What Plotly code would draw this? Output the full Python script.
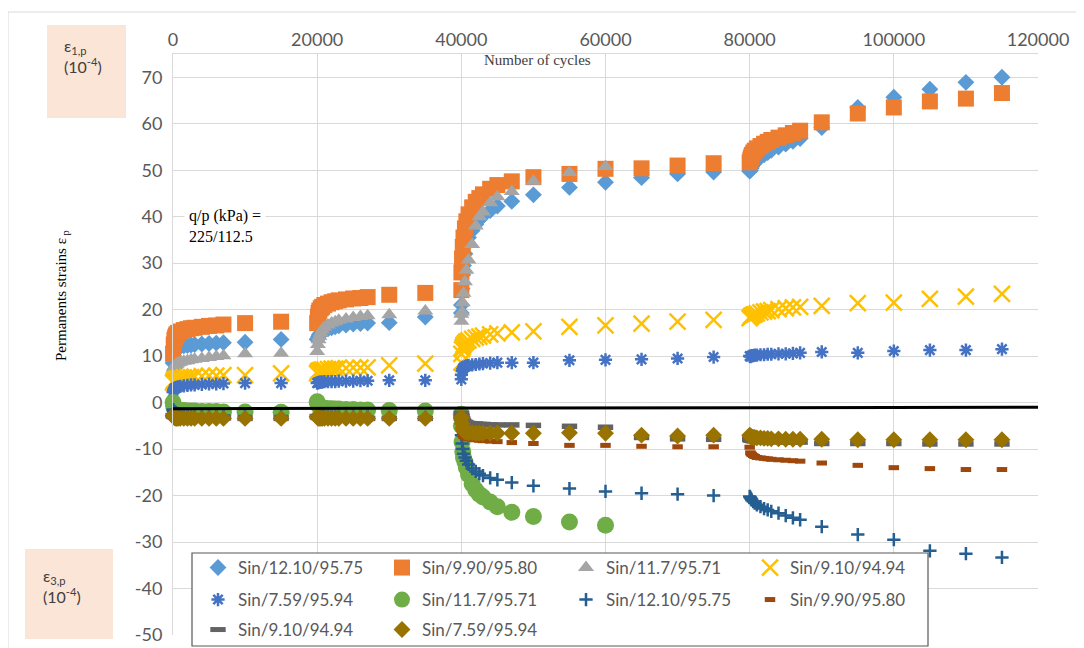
import plotly.graph_objects as go

# ---------------- data ----------------
c1 = [10, 100, 200, 300, 400, 500, 700, 1000, 1500, 2000, 2500, 3000, 4000, 5000, 6000, 7000, 10000, 15000]
c2 = [20000, 20100, 20200, 20300, 20500, 20700, 21000, 21500, 22000, 22500, 23000, 24000, 25000, 26000, 27000, 30000, 35000, 40000]
c3 = [40010, 40100, 40200, 40300, 40500, 40700, 41000, 41500, 42000, 42500, 43000, 44000, 45000, 47000, 50000, 55000, 60000]
c3b = [65000, 70000, 75000]
c4 = [80000, 80100, 80200, 80300, 80500, 80700, 81000, 81500, 82000, 82500, 83000, 84000, 85000, 86000, 87000,
      90000, 95000, 100000, 105000, 110000, 115000]

names = ["Sin/12.10/95.75", "Sin/9.90/95.80", "Sin/11.7/95.71", "Sin/9.10/94.94", "Sin/7.59/95.94",
         "Sin/11.7/95.71", "Sin/12.10/95.75", "Sin/9.90/95.80", "Sin/9.10/94.94", "Sin/7.59/95.94"]

# axial strains (positive)
s1_vals = [8.5, 10.0, 10.8, 11.2, 11.5, 11.7, 11.9, 12.1, 12.2, 12.3, 12.4, 12.5, 12.6, 12.7, 12.8, 12.9, 13.0, 13.6,
           13.6, 13.8, 14.2, 14.6, 15.0, 15.3, 15.6, 15.9, 16.1, 16.3, 16.5, 16.7, 16.9, 17.0, 17.1, 17.2, 18.4, 19.3,
           21.0, 24.5, 27.5, 29.5, 32.0, 34.0, 35.5, 37.0, 38.3, 39.4, 40.2, 41.3, 42.3, 43.3, 44.7, 46.3, 47.4,
           48.4, 49.2, 49.6,
           49.8, 50.0, 50.4, 50.8, 51.3, 51.8, 52.3, 52.8, 53.3, 53.8, 54.3, 55.0, 55.6, 56.2, 56.8, 59.2, 63.5, 65.7, 67.4, 68.9, 70.0]
s2_vals = [10.5, 12.5, 13.5, 14.0, 14.4, 14.7, 15.0, 15.3, 15.6, 15.8, 16.0, 16.1, 16.3, 16.5, 16.6, 16.8, 17.1, 17.4,
           17.1, 18.5, 19.3, 19.8, 20.3, 20.6, 21.0, 21.3, 21.6, 21.8, 22.0, 22.2, 22.4, 22.5, 22.7, 23.2, 23.6, 24.2,
           28.0, 31.0, 33.5, 35.5, 37.5, 39.0, 40.5, 42.0, 43.2, 44.0, 44.8, 46.0, 46.8, 47.6, 48.5, 49.2, 50.3,
           50.4, 51.0, 51.5,
           51.7, 52.3, 52.8, 53.3, 53.8, 54.2, 54.7, 55.2, 55.7, 56.1, 56.5, 57.0, 57.5, 58.0, 58.5, 60.3, 62.2, 63.5, 64.8, 65.4, 66.6]
s3_vals = [7.0, 7.5, 7.8, 8.0, 8.2, 8.3, 8.5, 8.7, 8.9, 9.0, 9.2, 9.3, 9.5, 9.7, 9.9, 10.1, 10.5, 10.6,
           11.0, 12.5, 13.5, 14.2, 15.0, 15.6, 16.2, 16.7, 17.1, 17.4, 17.7, 18.0, 18.3, 18.5, 18.7, 18.9, 19.7, 19.0,
           17.5, 19.5, 21.5, 23.5, 26.0, 28.5, 30.7, 34.0, 38.0, 40.0, 41.0, 43.0, 44.3, 45.4, 47.6, 49.5, 50.8]
s4_vals = [4.3, 4.6, 4.8, 4.9, 5.0, 5.1, 5.2, 5.3, 5.4, 5.5, 5.5, 5.6, 5.7, 5.8, 5.8, 5.9, 5.9, 6.3,
           6.3, 6.6, 6.8, 6.9, 7.0, 7.1, 7.1, 7.2, 7.3, 7.3, 7.4, 7.4, 7.5, 7.5, 7.6, 8.0, 8.4, 8.6,
           10.5, 11.5, 12.0, 12.4, 12.8, 13.1, 13.4, 13.7, 14.0, 14.2, 14.4, 14.7, 14.9, 15.1, 15.3, 16.3, 16.6,
           17.0, 17.4, 17.8,
           18.2, 18.4, 18.6, 18.7, 18.9, 19.0, 19.2, 19.4, 19.6, 19.7, 19.9, 20.1, 20.3, 20.5, 20.6, 20.8, 21.4, 21.5, 22.3, 22.8, 23.4]
s5_vals = [2.3, 2.7, 3.0, 3.1, 3.2, 3.3, 3.4, 3.5, 3.6, 3.7, 3.8, 3.8, 3.9, 4.0, 4.0, 4.1, 4.2, 4.2,
           4.2, 4.3, 4.3, 4.4, 4.4, 4.4, 4.5, 4.5, 4.5, 4.5, 4.6, 4.6, 4.6, 4.7, 4.7, 4.8, 4.8, 5.0,
           6.0, 6.8, 7.2, 7.5, 7.7, 7.9, 8.0, 8.1, 8.2, 8.3, 8.4, 8.5, 8.6, 8.6, 8.6, 9.1, 9.2,
           9.3, 9.5, 9.8,
           10.0, 9.9, 10.0, 10.1, 10.1, 10.2, 10.2, 10.3, 10.3, 10.4, 10.4, 10.5, 10.5, 10.6, 10.7, 10.9, 10.7, 11.1, 11.3, 11.3, 11.5]
# lateral strains (negative)
s6_vals = [0.0, -0.8, -1.2, -1.4, -1.5, -1.6, -1.6, -1.7, -1.7, -1.8, -1.8, -1.8, -1.9, -1.9, -1.9, -2.0, -2.0, -2.1,
           0.2, -0.3, -0.6, -0.8, -1.0, -1.1, -1.2, -1.3, -1.3, -1.4, -1.4, -1.5, -1.5, -1.6, -1.6, -1.7, -1.8, -2.5,
           -5.0, -8.5, -10.5, -11.8, -12.8, -14.0, -15.5, -17.5, -18.8, -19.7, -20.3, -21.4, -22.4, -23.6, -24.5, -25.7, -26.4]
s7_vals = [-1.5, -1.8, -2.0, -2.1, -2.2, -2.3, -2.4, -2.4, -2.5, -2.5, -2.6, -2.6, -2.7, -2.7, -2.8, -2.8, -2.9, -2.9,
           -2.9, -3.0, -3.0, -3.0, -3.0, -3.0, -3.0, -3.0, -3.1, -3.1, -3.1, -3.1, -3.1, -3.1, -3.1, -3.2, -3.2, -3.2,
           -7.0, -8.8, -10.0, -11.0, -11.8, -12.5, -13.3, -14.2, -14.8, -15.3, -15.7, -16.2, -16.6, -17.2, -17.9, -18.5, -19.1,
           -19.5, -19.7, -20.0,
           -20.2, -20.4, -20.7, -21.0, -21.3, -21.6, -22.0, -22.4, -22.8, -23.1, -23.4, -23.8, -24.3, -24.8, -25.2, -26.7, -28.4, -29.5, -31.9, -32.5, -33.3]
s8_vals = [-2.6, -2.8, -2.9, -3.0, -3.0, -3.1, -3.1, -3.1, -3.2, -3.2, -3.2, -3.2, -3.3, -3.3, -3.3, -3.3, -3.3, -3.3,
           -3.2, -3.3, -3.3, -3.3, -3.4, -3.4, -3.4, -3.4, -3.4, -3.4, -3.4, -3.5, -3.5, -3.5, -3.5, -3.5, -3.5, -3.5,
           -5.0, -6.5, -7.0, -7.3, -7.5, -7.7, -7.8, -7.9, -8.0, -8.1, -8.2, -8.3, -8.4, -8.6, -8.8, -9.2, -9.2,
           -9.4, -9.5, -9.5,
           -9.6, -10.8, -11.0, -11.2, -11.4, -11.6, -11.8, -11.9, -12.0, -12.1, -12.2, -12.3, -12.4, -12.5, -12.6, -13.0, -13.5, -14.0, -14.2, -14.4, -14.4]
s9_vals = [-2.8, -2.9, -3.0, -3.0, -3.1, -3.1, -3.1, -3.2, -3.2, -3.2, -3.2, -3.3, -3.3, -3.3, -3.3, -3.3, -3.4, -3.4,
           -3.0, -3.1, -3.2, -3.2, -3.3, -3.3, -3.3, -3.3, -3.4, -3.4, -3.4, -3.4, -3.4, -3.4, -3.4, -3.4, -3.4, -3.4,
           -2.3, -3.0, -3.5, -3.9, -4.2, -4.4, -4.5, -4.6, -4.6, -4.7, -4.7, -4.8, -4.8, -4.8, -4.9, -5.1, -5.3,
           -7.5, -7.8, -7.9,
           -7.9, -8.0, -8.1, -8.1, -8.2, -8.2, -8.3, -8.3, -8.3, -8.4, -8.4, -8.4, -8.5, -8.5, -8.5, -8.8, -8.8, -8.8, -8.9, -8.9, -8.9]
s10_vals = [-2.8, -3.0, -3.2, -3.3, -3.3, -3.4, -3.4, -3.4, -3.4, -3.4, -3.4, -3.4, -3.4, -3.4, -3.4, -3.4, -3.4, -3.4,
            -3.0, -3.3, -3.3, -3.4, -3.4, -3.4, -3.4, -3.4, -3.4, -3.4, -3.4, -3.4, -3.4, -3.4, -3.4, -3.4, -3.4, -3.4,
            -3.2, -4.5, -5.5, -6.0, -6.3, -6.4, -6.5, -6.5, -6.6, -6.6, -6.6, -6.6, -6.6, -6.6, -6.6, -6.5, -6.6,
            -7.0, -7.2, -7.0,
            -7.0, -7.2, -7.4, -7.4, -7.5, -7.5, -7.6, -7.6, -7.7, -7.7, -7.8, -7.8, -7.9, -7.9, -7.9, -7.9, -8.0, -8.0, -8.0, -8.0, -8.0]

x_ticks = [0, 20000, 40000, 60000, 80000, 100000, 120000]
y_ticks = [-50, -40, -30, -20, -10, 0, 10, 20, 30, 40, 50, 60, 70]

full_x = c1 + c2 + c3 + c3b + c4
short_x = c1 + c2 + c3

# ---------------- layout helpers (page pixel -> paper) ----------------
OFF = 8  # the page body margin shifts the figure by 8px
W, H = 1084 - OFF, 648 - OFF
PL, PR, PT, PB = 173, 1038, 54, 635  # plot area in page pixels


def px(x):
    return (x - PL) / (PR - PL)


def py(y):
    return (PB - y) / (PB - PT)


series = [
    (full_x, s1_vals, dict(symbol="diamond", size=13, color="#5B9BD5"), "legend"),
    (full_x, s2_vals, dict(symbol="square", size=16, color="#ED7D31"), "legend"),
    (short_x, s3_vals, dict(symbol="triangle-up", size=14, color="#A5A5A5"), "legend"),
    (full_x, s4_vals, dict(symbol="x-thin", size=16, color="#FFC000", line=dict(width=2.5, color="#FFC000")), "legend"),
    (full_x, s5_vals, dict(symbol="asterisk", size=11, color="#4472C4", line=dict(width=2.5, color="#4472C4")), "legend2"),
    (short_x, s6_vals, dict(symbol="circle", size=17, color="#70AD47"), "legend2"),
    (full_x, s7_vals, dict(symbol="cross-thin", size=9.5, color="#255E91", line=dict(width=2.5, color="#255E91")), "legend2"),
    (full_x, s8_vals, dict(symbol="line-ew", size=7.5, color="#9E480E", line=dict(width=5, color="#9E480E")), "legend2"),
    (full_x, s9_vals, dict(symbol="line-ew", size=11, color="#636363", line=dict(width=5.5, color="#636363")), "legend3"),
    (full_x, s10_vals, dict(symbol="diamond", size=13, color="#997300"), "legend3"),
]

fig = go.Figure()
for (xs, ys, mk, lg), nm in zip(series, names):
    fig.add_trace(go.Scatter(x=xs, y=ys, mode="markers", name=nm, marker=mk, legend=lg,
                             cliponaxis=False))

tick_font = dict(family="Lato", size=18, color="#595959")
legend_font = dict(family="Lato", size=17, color="#595959")

shapes = [
    # outer chart border
    dict(type="rect", xref="paper", yref="paper", x0=px(8), x1=px(1079), y0=py(660), y1=py(12),
         line=dict(color="#D9D9D9", width=1), fillcolor="rgba(0,0,0,0)", layer="below"),
    # zero reference line
    dict(type="line", xref="x", yref="y", x0=-400, x1=120000, y0=-1.3, y1=-1.0,
         line=dict(color="#000000", width=3), layer="above"),
    # pink label boxes
    dict(type="rect", xref="paper", yref="paper", x0=px(47), x1=px(126), y0=py(118), y1=py(25),
         line=dict(width=0), fillcolor="#FBE5D6", layer="below"),
    dict(type="rect", xref="paper", yref="paper", x0=px(25), x1=px(113), y0=py(639), y1=py(549),
         line=dict(width=0), fillcolor="#FBE5D6", layer="below"),
    # legend frame
    dict(type="rect", xref="paper", yref="paper", x0=px(192), x1=px(928), y0=py(646), y1=py(553),
         line=dict(color="#595959", width=1.2), fillcolor="#FFFFFF", layer="above"),
]

label_font = dict(family="Lato", size=16, color="#404040")
annotations = [
    dict(text="Number of cycles", xref="paper", yref="paper", x=px(537), y=py(60), showarrow=False,
         font=dict(family="Liberation Serif", size=15, color="#404040"), xanchor="center", yanchor="middle"),
    dict(text="Permanents strains ε<sub> p</sub>", xref="paper", yref="paper", x=px(62), y=py(296),
         showarrow=False, textangle=-90, font=dict(family="Liberation Serif", size=15, color="#000000"),
         xanchor="center", yanchor="middle"),
    dict(text="q/p (kPa) =<br>225/112.5", xref="paper", yref="paper", x=px(184), y=py(226), showarrow=False,
         align="left", xanchor="left", yanchor="middle", bgcolor="#FFFFFF", borderpad=4,
         font=dict(family="Liberation Serif", size=16, color="#000000")),
    dict(text="ε<sub>1,p</sub><br>(10<sup>-4</sup>)", xref="paper", yref="paper", x=px(62), y=py(34),
         showarrow=False, align="left", xanchor="left", yanchor="top", font=label_font),
    dict(text="ε<sub>3,p</sub><br>(10<sup>-4</sup>)", xref="paper", yref="paper", x=px(41), y=py(564),
         showarrow=False, align="left", xanchor="left", yanchor="top", font=label_font),
]

leg_common = dict(orientation="h", xanchor="left", yanchor="middle", bgcolor="rgba(0,0,0,0)",
                  borderwidth=0, font=legend_font, entrywidth=139, entrywidthmode="pixels",
                  itemsizing="trace", tracegroupgap=0)

fig.update_layout(
    width=W, height=H,
    margin=dict(l=PL - OFF, r=W - (PR - OFF), t=PT - OFF, b=H - (PB - OFF), autoexpand=False),
    paper_bgcolor="#FFFFFF", plot_bgcolor="#FFFFFF",
    xaxis=dict(range=[0, 120000], side="top", tickvals=x_ticks, ticktext=[str(v) for v in x_ticks],
               showgrid=True, gridcolor="#D9D9D9", gridwidth=1, showline=True, linecolor="#D9D9D9",
               zeroline=False, ticks="", tickfont=tick_font, mirror=False),
    yaxis=dict(range=[-50, 75], tickvals=y_ticks, ticktext=[str(v) for v in y_ticks],
               showgrid=True, gridcolor="#D9D9D9", gridwidth=1, showline=True, linecolor="#D9D9D9",
               zeroline=False, ticks="", tickfont=tick_font, ticklabelstandoff=6),
    showlegend=True,
    legend=dict(x=px(198), y=py(568), **leg_common),
    legend2=dict(x=px(198), y=py(600), **leg_common),
    legend3=dict(x=px(198), y=py(630), **leg_common),
    shapes=shapes,
    annotations=annotations,
)

fig.write_html("out.html")
